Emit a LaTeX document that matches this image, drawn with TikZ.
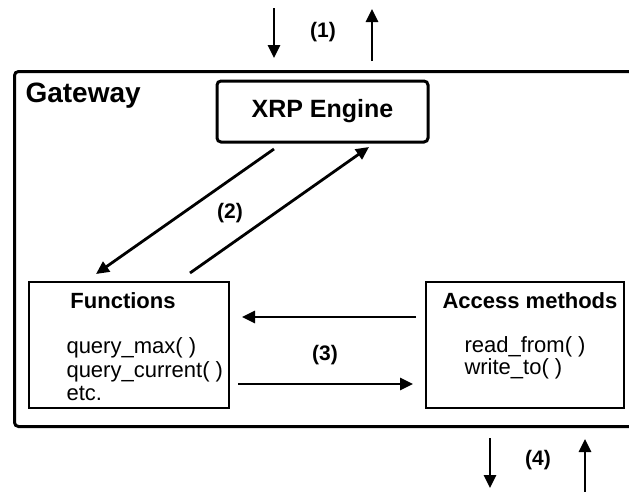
\documentclass[tikz,border=0pt]{standalone}
\usepackage{fontspec}
\setmainfont{Liberation Sans}
\usetikzlibrary{arrows.meta}
\begin{document}
\begin{tikzpicture}[x=1pt,y=-1pt,
  arr/.style={line width=2.8pt,-{Triangle[length=13pt,width=12pt]}},
  thickbox/.style={draw,line width=3pt,rounded corners=4pt,inner sep=0pt},
  thinbox/.style={draw,line width=1.2pt,inner sep=0pt},
  lbl/.style={font=\bfseries\fontsize{21}{24}\selectfont},
  head/.style={font=\bfseries\fontsize{22}{26}\selectfont,anchor=base},
  item/.style={font=\fontsize{22}{26}\selectfont,anchor=base west}]
\useasboundingbox (0,0) rectangle (629,491);
\fill[white] (0,0) rectangle (629,491);
% gateway
\node[thickbox,minimum width=640pt,minimum height=355pt,anchor=north west] (gw) at (13,70) {};
\node[font=\bfseries\fontsize{28}{32}\selectfont,anchor=base west] (gwl) at (22,102) {Gateway};
% XRP engine
\node[thickbox,minimum width=211pt,minimum height=61pt,font=\bfseries\fontsize{25}{30}\selectfont] (xrp) at (322.5,111.5) {XRP Engine};
% Functions
\node[thinbox,minimum width=200pt,minimum height=126pt] (fn) at (129,345) {};
\node[head] (fnh) at (123,308) {Functions};
\node[item] (f1) at (63,353) {query\_max( )};
\node[item] (f2) at (63,377) {query\_current( )};
\node[item] (f3) at (63,400) {etc.};
% Access methods
\node[thinbox,minimum width=198pt,minimum height=126pt] (am) at (525,345) {};
\node[head] (amh) at (530,308) {Access methods};
\node[item] (a1) at (461,352) {read\_from( )};
\node[item] (a2) at (461,374) {write\_to( )};
% (1)
\coordinate (in1s) at (274,8);
\coordinate (in1e) at (274,58);
\coordinate (out1s) at (372,61);
\coordinate (out1e) at (372,9);
\draw[arr] (in1s) -- (in1e);
\draw[arr] (out1s) -- (out1e);
\node[lbl] (l1) at (323,32) {(1)};
% (2)
\coordinate (d2s) at (274,149);
\coordinate (d2e) at (96,274);
\coordinate (u2s) at (190,273);
\coordinate (u2e) at (369,147);
\draw[arr] (d2s) -- (d2e);
\draw[arr] (u2s) -- (u2e);
\node[lbl] (l2) at (230,213) {(2)};
% (3)
\coordinate (l3s) at (416,317);
\coordinate (l3e) at (242,317);
\coordinate (r3s) at (238,384);
\coordinate (r3e) at (413,384);
\draw[arr] (l3s) -- (l3e);
\draw[arr] (r3s) -- (r3e);
\node[lbl] (l3) at (325,355) {(3)};
% (4)
\coordinate (d4s) at (490,438);
\coordinate (d4e) at (490,488);
\coordinate (u4s) at (585,492);
\coordinate (u4e) at (585,439);
\draw[arr] (d4s) -- (d4e);
\draw[arr] (u4s) -- (u4e);
\node[lbl] (l4) at (538,460) {(4)};
\end{tikzpicture}
\end{document}
